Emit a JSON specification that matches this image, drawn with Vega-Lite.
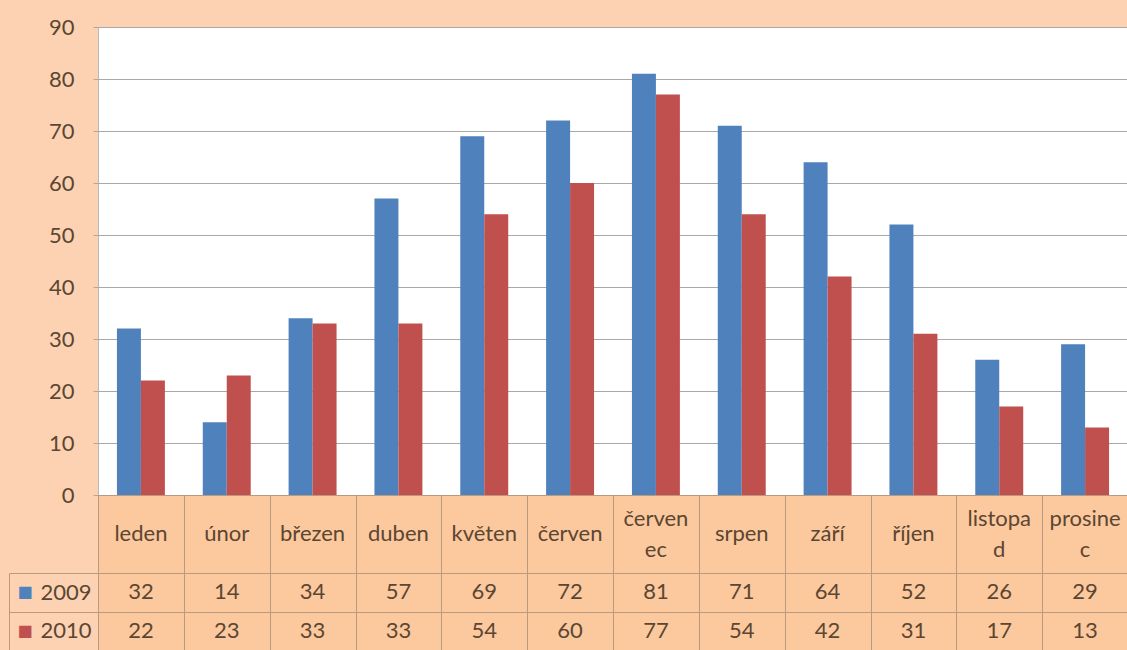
{
  "$schema": "https://vega.github.io/schema/vega-lite/v6.json",
  "background": "#fcd2b2",
  "padding": {"left": 8, "top": 15, "right": 0, "bottom": 0},
  "spacing": 0,
  "bounds": "flush",
  "config": {
    "font": "Lato",
    "axis": {"labelFont": "Lato", "labelFontSize": 22, "labelColor": "#5a4632", "title": null},
    "text": {"font": "Lato", "fontSize": 22, "color": "#5a4632"}
  },
  "datasets": {
    "d": [
      {"month": "leden", "label": "leden", "year": "2009", "value": 32},
      {"month": "leden", "label": "leden", "year": "2010", "value": 22},
      {"month": "únor", "label": "únor", "year": "2009", "value": 14},
      {"month": "únor", "label": "únor", "year": "2010", "value": 23},
      {"month": "březen", "label": "březen", "year": "2009", "value": 34},
      {"month": "březen", "label": "březen", "year": "2010", "value": 33},
      {"month": "duben", "label": "duben", "year": "2009", "value": 57},
      {"month": "duben", "label": "duben", "year": "2010", "value": 33},
      {"month": "květen", "label": "květen", "year": "2009", "value": 69},
      {"month": "květen", "label": "květen", "year": "2010", "value": 54},
      {"month": "červen", "label": "červen", "year": "2009", "value": 72},
      {"month": "červen", "label": "červen", "year": "2010", "value": 60},
      {"month": "červenec", "label": "červen\nec", "year": "2009", "value": 81},
      {"month": "červenec", "label": "červen\nec", "year": "2010", "value": 77},
      {"month": "srpen", "label": "srpen", "year": "2009", "value": 71},
      {"month": "srpen", "label": "srpen", "year": "2010", "value": 54},
      {"month": "září", "label": "září", "year": "2009", "value": 64},
      {"month": "září", "label": "září", "year": "2010", "value": 42},
      {"month": "říjen", "label": "říjen", "year": "2009", "value": 52},
      {"month": "říjen", "label": "říjen", "year": "2010", "value": 31},
      {"month": "listopad", "label": "listopa\nd", "year": "2009", "value": 26},
      {"month": "listopad", "label": "listopa\nd", "year": "2010", "value": 17},
      {"month": "prosinec", "label": "prosine\nc", "year": "2009", "value": 29},
      {"month": "prosinec", "label": "prosine\nc", "year": "2010", "value": 13}
    ]
  },
  "vconcat": [
    {
      "width": 1030,
      "height": 468,
      "data": {"name": "d"},
      "view": {"fill": "white", "stroke": "#b8b8b8"},
      "mark": {"type": "bar"},
      "encoding": {
        "x": {"field": "month", "type": "nominal", "sort": null, "scale": {"paddingInner": 0, "paddingOuter": 0}, "axis": null},
        "xOffset": {"field": "year", "type": "nominal", "scale": {"paddingInner": 0, "paddingOuter": 0.79}},
        "y": {
          "field": "value", "type": "quantitative",
          "scale": {"domain": [0, 90], "nice": false},
          "axis": {"values": [0, 10, 20, 30, 40, 50, 60, 70, 80, 90], "grid": true, "gridColor": "#a8a8a8", "tickColor": "#a8a8a8", "tickSize": 5, "labelPadding": 19, "domain": false}
        },
        "color": {"field": "year", "type": "nominal", "scale": {"range": ["#4f81bd", "#c0504d"]}, "legend": null}
      }
    },
    {
      "width": 1030,
      "height": 78,
      "data": {"name": "d"},
      "view": {"fill": "#fcc89d", "stroke": "#b99a7e"},
      "transform": [{"filter": "datum.year == '2009'"}],
      "encoding": {
        "x": {"field": "month", "type": "nominal",
          "scale": {"type": "band", "paddingInner": 0, "paddingOuter": 0,
            "domain": ["leden", "únor", "březen", "duben", "květen", "červen", "červenec", "srpen", "září", "říjen", "listopad", "prosinec"]},
          "axis": {"labels": false, "ticks": false, "domain": false, "grid": true, "tickBand": "extent", "gridColor": "#b99a7e", "gridOpacity": 1}},
        "text": {"field": "label"}
      },
      "layer": [
        {
          "transform": [{"filter": "indexof(datum.label, '\\n') < 0"}],
          "mark": {"type": "text", "baseline": "middle"}
        },
        {
          "transform": [{"filter": "indexof(datum.label, '\\n') >= 0"}],
          "mark": {"type": "text", "lineBreak": "\n", "lineHeight": 31, "baseline": "middle", "dy": -15}
        }
      ]
    },
    {
      "width": 1030,
      "height": 77,
      "data": {"name": "d"},
      "view": {"fill": "#fcc89d", "stroke": null},
      "layer": [
        {
          "mark": {"type": "text", "baseline": "middle"},
          "encoding": {
            "x": {"field": "month", "type": "nominal", "sort": null, "scale": {"type": "band", "paddingInner": 0, "paddingOuter": 0},
              "axis": {"labels": false, "ticks": false, "domain": false, "grid": true, "tickBand": "extent", "gridColor": "#b99a7e", "gridOpacity": 1}},
            "y": {"field": "year", "type": "nominal", "scale": {"type": "band", "paddingInner": 0, "paddingOuter": 0},
              "axis": {"orient": "left", "domain": false, "ticks": true, "tickBand": "extent", "tickSize": 89, "tickColor": "#b99a7e", "grid": true, "gridColor": "#b99a7e", "gridOpacity": 1, "labelPadding": -82}},
            "text": {"field": "value", "type": "quantitative"}
          }
        },
        {
          "mark": {"type": "text", "opacity": 0},
          "encoding": {
            "y": {"field": "year", "type": "nominal", "scale": {"type": "band", "paddingInner": 0, "paddingOuter": 0},
              "axis": {"orient": "left", "offset": 89, "domain": true, "domainColor": "#b99a7e", "ticks": false, "tickSize": 0, "grid": false,
                "labelExpr": "'■'", "labelColor": {"condition": {"test": "datum.value == '2009'", "value": "#4f81bd"}, "value": "#c0504d"},
                "labelAlign": "left", "labelPadding": -8, "labelFont": "DejaVu Sans", "labelFontSize": 16}},
            "text": {"value": ""}
          }
        }
      ],
      "resolve": {"axis": {"y": "independent"}}
    }
  ]
}
